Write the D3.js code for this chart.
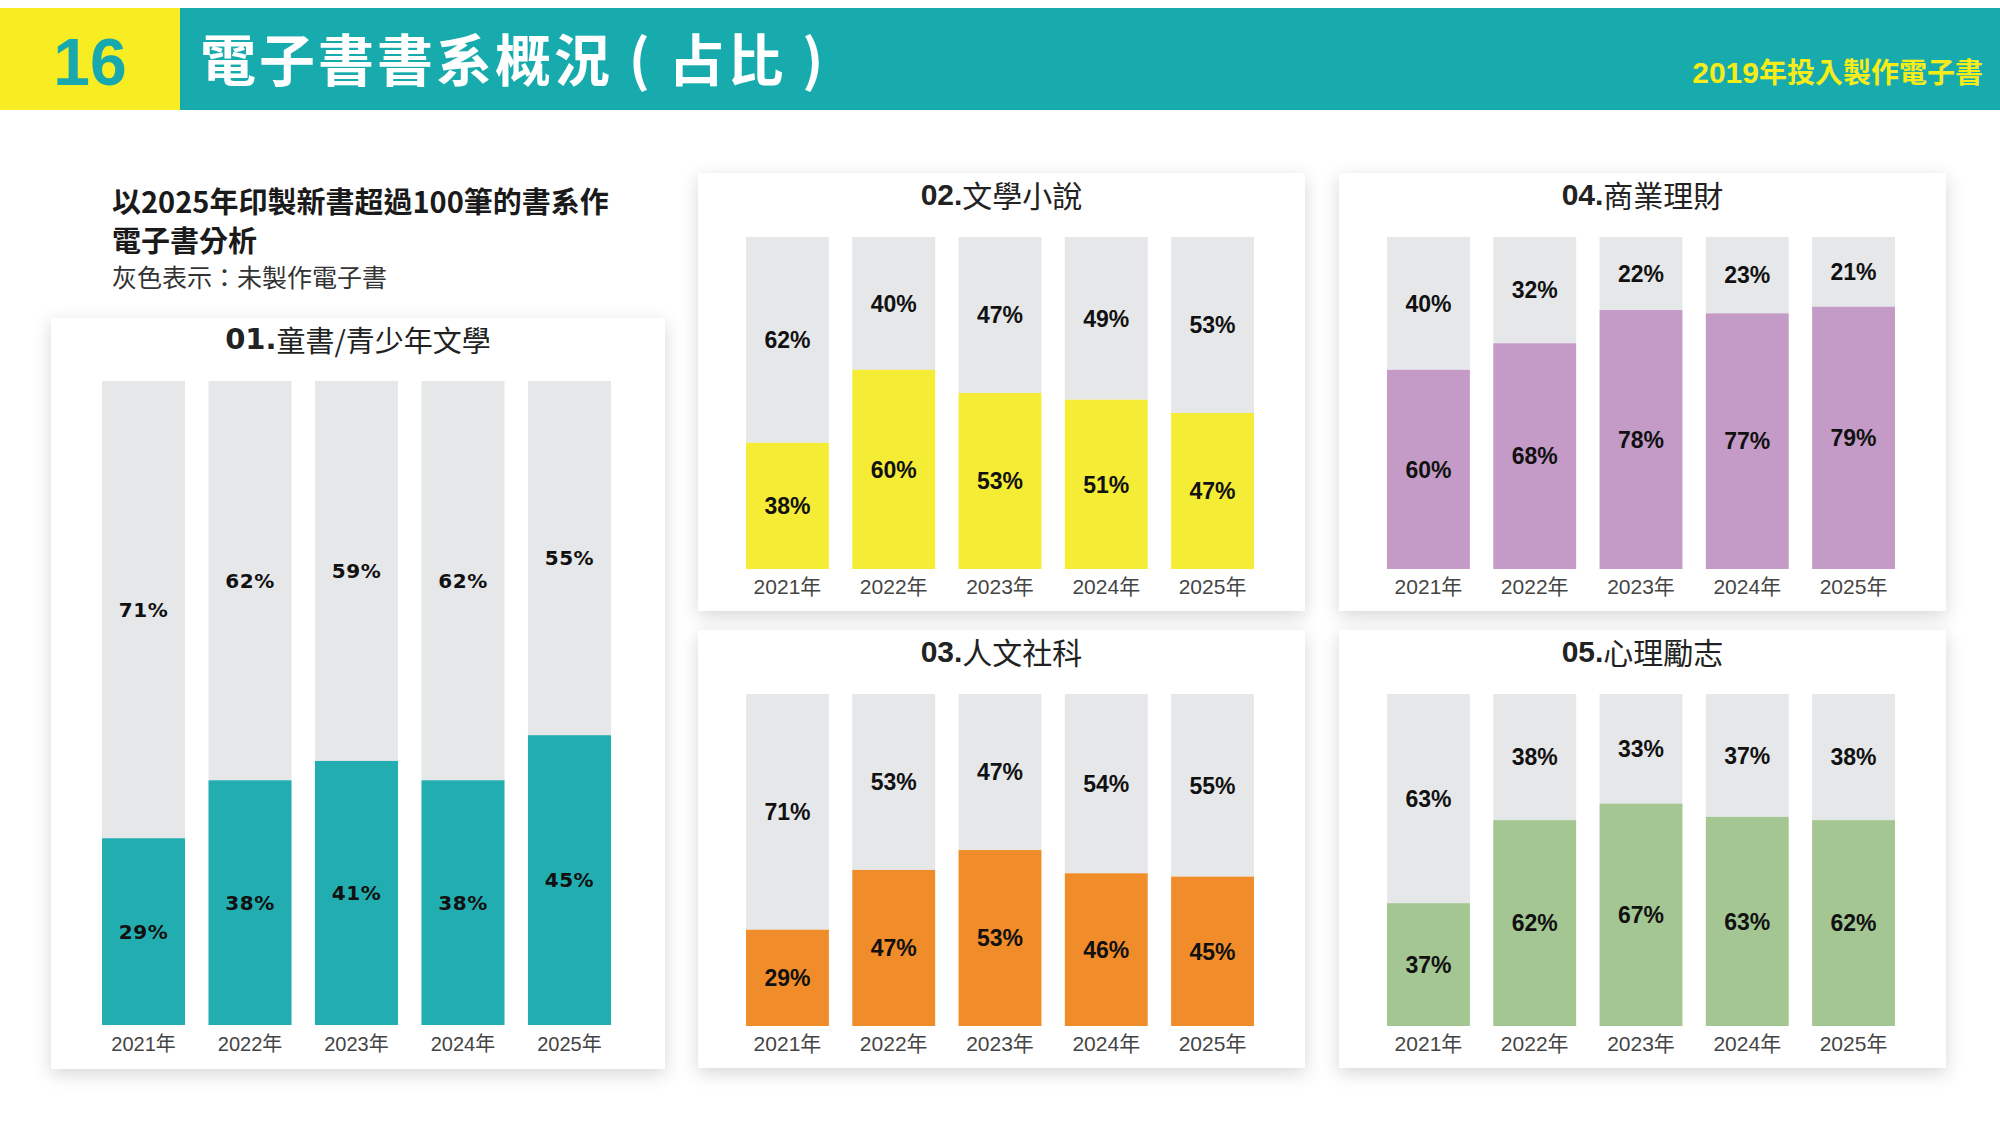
<!DOCTYPE html>
<html>
<head>
<meta charset="utf-8">
<script src="https://cdn.jsdelivr.net/npm/d3@7"></script>
<style>
  html, body { margin: 0; padding: 0; background: #fff; }
  svg { display: block; }
</style>
</head>
<body>
<div id="chart"></div>
<script>
// values (percent of titles made into e-books / not)
var years = ['2021年', '2022年', '2023年', '2024年', '2025年'];

var kidsEbook = [29, 38, 41, 38, 45];
var kidsNone = [71, 62, 59, 62, 55];

var novelEbook = [38, 60, 53, 51, 47];
var novelNone = [62, 40, 47, 49, 53];

var socialEbook = [29, 47, 53, 46, 45];
var socialNone = [71, 53, 47, 54, 55];

var businessEbook = [60, 68, 78, 77, 79];
var businessNone = [40, 32, 22, 23, 21];

var mindEbook = [37, 62, 67, 63, 62];
var mindNone = [63, 38, 33, 37, 38];

var CJK = '"Noto Sans CJK TC", "Noto Sans CJK SC", sans-serif';
var NARROW = '"Liberation Sans Narrow", "Liberation Sans", Arial, sans-serif';
var WIDE = '"DejaVu Sans", "Liberation Sans", sans-serif';
var GREY = '#e6e7e9';

var svg = d3.select('#chart').append('svg')
	.attr('width', 2000)
	.attr('height', 1141);

var defs = svg.append('defs');
defs.append('filter')
	.attr('id', 'shadow')
	.attr('x', '-10%').attr('y', '-10%')
	.attr('width', '120%').attr('height', '125%')
	.append('feDropShadow')
		.attr('dx', 0)
		.attr('dy', 5)
		.attr('stdDeviation', 9)
		.attr('flood-color', '#000')
		.attr('flood-opacity', 0.16);

// header band
svg.append('rect').attr('x', 0).attr('y', 8).attr('width', 2000).attr('height', 102).attr('fill', '#17abad');
svg.append('rect').attr('x', 0).attr('y', 8).attr('width', 180).attr('height', 102).attr('fill', '#f8ec22');

svg.append('text')
	.attr('x', 90).attr('y', 85)
	.attr('text-anchor', 'middle')
	.style('font-family', '"Liberation Sans", Arial, sans-serif')
	.style('font-weight', 700)
	.style('font-size', '66px')
	.attr('fill', '#17a9ad')
	.text('16');

svg.append('text')
	.attr('x', 200).attr('y', 81)
	.style('font-family', CJK)
	.style('font-weight', 700)
	.style('font-size', '56px')
	.style('letter-spacing', '3px')
	.attr('fill', '#fff')
	.text('電子書書系概況 ( 占比 )');

var sub = svg.append('text')
	.attr('x', 1983).attr('y', 83)
	.attr('text-anchor', 'end')
	.style('font-family', CJK)
	.style('font-weight', 700)
	.style('font-size', '28px')
	.attr('fill', '#f5ec19');
sub.append('tspan').style('font-family', NARROW).style('font-size', '30px').text('2019');
sub.append('tspan').text('年投入製作電子書');

// note at top left
var note = svg.append('g').attr('fill', '#1a1a1a').style('font-family', CJK);
note.append('text').attr('x', 112).attr('y', 213)
	.style('font-weight', 700).style('font-size', '29px')
	.text('以2025年印製新書超過100筆的書系作');
note.append('text').attr('x', 112).attr('y', 252)
	.style('font-weight', 700).style('font-size', '29px')
	.text('電子書分析');
note.append('text').attr('x', 112).attr('y', 287)
	.style('font-size', '25px').attr('fill', '#333')
	.text('灰色表示：未製作電子書');

var drawPanel = function(p) {

	var g = svg.append('g').attr('transform', 'translate(' + p.x + ',' + p.y + ')');

	g.append('rect')
		.attr('width', p.w)
		.attr('height', p.h)
		.attr('fill', '#fff')
		.attr('filter', 'url(#shadow)');

	var title = g.append('text')
		.attr('x', p.w / 2)
		.attr('y', p.titleY)
		.attr('text-anchor', 'middle')
		.attr('dominant-baseline', 'central')
		.style('font-family', CJK)
		.style('font-size', p.titleSize + 'px')
		.attr('fill', '#222');
	title.append('tspan')
		.style('font-family', p.numFont)
		.style('font-weight', 900)
		.text(p.num);
	title.append('tspan').text(p.name);

	var x = d3.scaleBand()
		.domain(years)
		.range([p.barLeft, p.barRight])
		.paddingInner(0.22)
		.paddingOuter(0);

	var y = d3.scaleLinear()
		.domain([0, 100])
		.range([p.barBottom, p.barTop]);

	var rows = years.map(function(yr, i) {
		return { year: yr, ebook: p.ebook[i], none: p.none[i] };
	});

	var bars = g.selectAll('g.bar')
		.data(rows)
		.enter()
		.append('g')
			.attr('class', 'bar');

	bars.append('rect')
		.attr('x', function(d) { return x(d.year); })
		.attr('width', x.bandwidth())
		.attr('y', function(d) { return y(100); })
		.attr('height', function(d) { return y(d.ebook) - y(100); })
		.attr('fill', GREY);

	bars.append('rect')
		.attr('x', function(d) { return x(d.year); })
		.attr('width', x.bandwidth())
		.attr('y', function(d) { return y(d.ebook); })
		.attr('height', function(d) { return y(0) - y(d.ebook); })
		.attr('fill', p.color);

	var labelStyle = function(sel) {
		sel.attr('text-anchor', 'middle')
			.attr('dy', '0.36em')
			.style('font-family', p.valueFont)
			.style('font-weight', 700)
			.style('font-size', p.valueSize + 'px')
			.style('letter-spacing', p.valueSpacing + 'px')
			.attr('fill', '#111');
	};

	bars.append('text')
		.attr('x', function(d) { return x(d.year) + x.bandwidth() / 2; })
		.attr('y', function(d) { return y(d.ebook / 2); })
		.text(function(d) { return d.ebook + '%'; })
		.call(labelStyle);

	bars.append('text')
		.attr('x', function(d) { return x(d.year) + x.bandwidth() / 2; })
		.attr('y', function(d) { return y(d.ebook + d.none / 2); })
		.text(function(d) { return d.none + '%'; })
		.call(labelStyle);

	var axis = g.append('g')
		.attr('transform', 'translate(0,' + p.barBottom + ')')
		.call(d3.axisBottom(x).tickSize(0).tickPadding(p.tickPad));

	axis.select('.domain').remove();
	axis.selectAll('text')
		.style('font-family', p.yearFont + ', ' + CJK)
		.style('font-size', p.yearSize + 'px')
		.attr('fill', '#444');
};

var small = function(x, y, num, name, color, ebook, none) {
	return {
		x: x, y: y, w: 607, h: 438,
		num: num, name: name, color: color, ebook: ebook, none: none,
		titleY: 21, titleSize: 30, numFont: NARROW,
		barLeft: 48, barRight: 556, barTop: 64, barBottom: 396,
		valueFont: NARROW, valueSize: 23, valueSpacing: 0,
		yearFont: NARROW, yearSize: 21, tickPad: 10
	};
};

drawPanel({
	x: 51, y: 318, w: 614, h: 751,
	num: '01.', name: '童書/青少年文學', color: '#22aeb0',
	ebook: kidsEbook, none: kidsNone,
	titleY: 21, titleSize: 29, numFont: WIDE,
	barLeft: 51, barRight: 560, barTop: 63, barBottom: 707,
	valueFont: WIDE, valueSize: 20, valueSpacing: 0.5,
	yearFont: '"Liberation Sans"', yearSize: 20, tickPad: 12
});

drawPanel(small(698, 173, '02.', '文學小說', '#f5ec36', novelEbook, novelNone));
drawPanel(small(1339, 173, '04.', '商業理財', '#c49bc7', businessEbook, businessNone));
drawPanel(small(698, 630, '03.', '人文社科', '#f18c2a', socialEbook, socialNone));
drawPanel(small(1339, 630, '05.', '心理勵志', '#a4c693', mindEbook, mindNone));
</script>
</body>
</html>
